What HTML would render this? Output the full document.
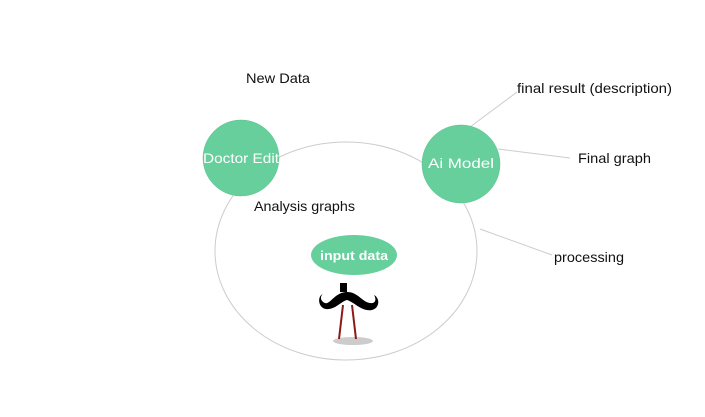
<!DOCTYPE html>
<html><head><style>
body{margin:0;background:#fff;width:705px;height:412px;overflow:hidden}
svg text{font-family:"Liberation Sans",sans-serif}
</style></head><body>
<svg width="705" height="412" viewBox="0 0 705 412">
<ellipse cx="346" cy="251" rx="131" ry="109" fill="none" stroke="#ccc" stroke-width="1"/>
<line x1="470" y1="127" x2="517" y2="92" stroke="#ccc"/>
<line x1="498" y1="149" x2="570" y2="158" stroke="#ccc"/>
<line x1="480" y1="229" x2="552" y2="255" stroke="#ccc"/>
<circle cx="241" cy="158" r="38" fill="#66cf9c" stroke="#5bbf8d" stroke-width="0.5"/>
<circle cx="461" cy="164" r="39" fill="#66cf9c" stroke="#5bbf8d" stroke-width="0.5"/>
<ellipse cx="354" cy="255" rx="43" ry="20" fill="#66cf9c"/>
<text x="203" y="163" fill="#fff" font-size="14" textLength="76" lengthAdjust="spacingAndGlyphs">Doctor Edit</text>
<text x="428" y="168" fill="#fff" font-size="14" textLength="66" lengthAdjust="spacingAndGlyphs">Ai Model</text>
<text x="320" y="260" fill="#fff" font-size="13" font-weight="bold" textLength="68" lengthAdjust="spacingAndGlyphs">input data</text>
<text x="246" y="83" fill="#111" font-size="14" textLength="64" lengthAdjust="spacingAndGlyphs">New Data</text>
<text x="517" y="93" fill="#111" font-size="14" textLength="155" lengthAdjust="spacingAndGlyphs">final result (description)</text>
<text x="578" y="163" fill="#111" font-size="14" textLength="73" lengthAdjust="spacingAndGlyphs">Final graph</text>
<text x="254" y="211" fill="#111" font-size="14" textLength="101" lengthAdjust="spacingAndGlyphs">Analysis graphs</text>
<text x="554" y="262" fill="#111" font-size="14" textLength="70" lengthAdjust="spacingAndGlyphs">processing</text>
<ellipse cx="353" cy="341" rx="20" ry="4" fill="#ccc"/>
<line x1="343" y1="305" x2="339" y2="339" stroke="#8b1a1a" stroke-width="2"/>
<line x1="352" y1="305" x2="356" y2="339" stroke="#8b1a1a" stroke-width="2"/>
<rect x="340" y="283" width="7" height="9" fill="#000"/>
<path d="M347,292 C335,292 330,305 325,303 C320,301 320,296 323,294 C317,296 318,308 326,309 C335,310 340,302 347,300 C354,302 362,312 372,310 C380,308 380,298 374,295 C377,300 375,304 370,303 C362,302 358,292 347,292 Z" fill="#000"/>
</svg>
</body></html>
